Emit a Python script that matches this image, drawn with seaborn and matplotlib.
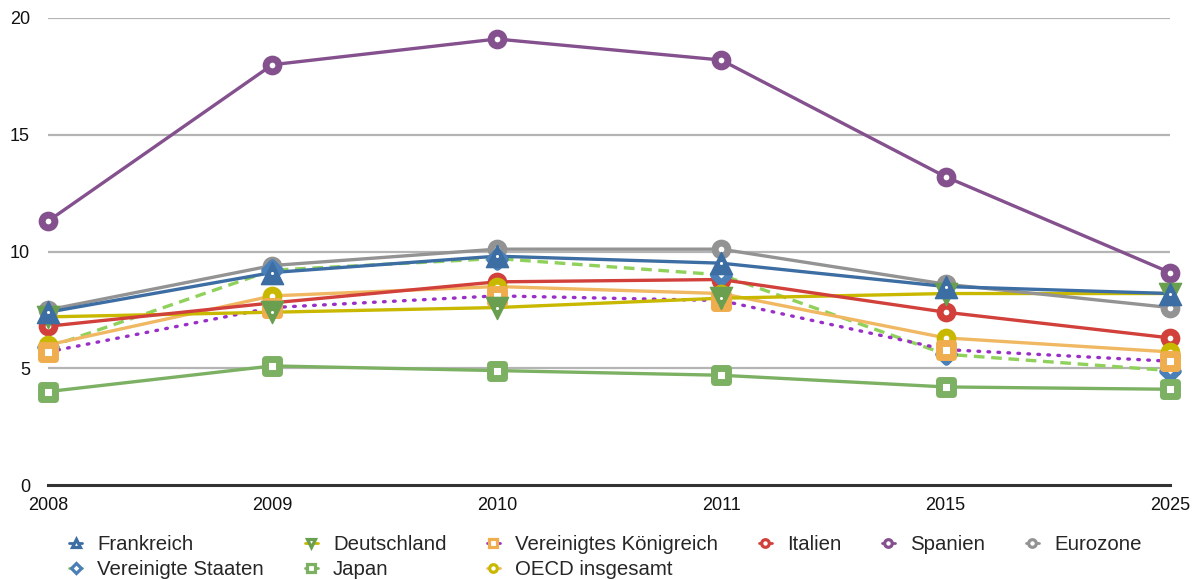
import matplotlib
matplotlib.use("Agg")
import matplotlib.pyplot as plt
from matplotlib.lines import Line2D
import pandas as pd
import seaborn as sns

# Jahre auf der x-Achse (gleichmäßig verteilt, kategorial)
years = ["2008", "2009", "2010", "2011", "2015", "2025"]

# Werte je Reihe
frankreich = [7.4, 9.1, 9.8, 9.5, 8.5, 8.2]
vereinigte_staaten = [5.9, 9.2, 9.7, 9.0, 5.6, 4.9]
deutschland = [7.2, 7.4, 7.6, 8.0, 8.2, 8.2]
japan = [4.0, 5.1, 4.9, 4.7, 4.2, 4.1]
vereinigtes_koenigreich = [5.7, 7.6, 8.1, 7.9, 5.8, 5.3]
oecd_insgesamt = [6.0, 8.1, 8.5, 8.2, 6.3, 5.7]
italien = [6.8, 7.8, 8.7, 8.8, 7.4, 6.3]
spanien = [11.3, 18.0, 19.1, 18.2, 13.2, 9.1]
eurozone = [7.5, 9.4, 10.1, 10.1, 8.6, 7.6]

y_ticks = [0, 5, 10, 15, 20]

# name, values, line colour, line style, marker, marker colour, marker kind
series = [
    ("Frankreich", frankreich, "#3c6da3", "-", "^", "#3c6da3", "solid"),
    ("Vereinigte Staaten", vereinigte_staaten, "#8fd15a", (0, (3.2, 2.0)), "D", "#4a7fb8", "ring"),
    ("Deutschland", deutschland, "#c9b800", "-", "v", "#6a9f4f", "solid"),
    ("Japan", japan, "#7cb063", "-", "s", "#7cb063", "ring"),
    ("Vereinigtes Königreich", vereinigtes_koenigreich, "#9a2fc8", (0, (0.5, 2.5)), "s", "#f0ad4e", "ring"),
    ("OECD insgesamt", oecd_insgesamt, "#f0b862", "-", "o", "#c8b800", "ring"),
    ("Italien", italien, "#d1403a", "-", "o", "#d1403a", "ring"),
    ("Spanien", spanien, "#84508e", "-", "o", "#84508e", "ring"),
    ("Eurozone", eurozone, "#939393", "-", "o", "#939393", "ring"),
]

# stacking order of the markers (bottom to top)
marker_order = ["Eurozone", "Spanien", "Italien", "Vereinigte Staaten", "OECD insgesamt",
                "Vereinigtes Königreich", "Japan", "Deutschland", "Frankreich"]
line_order = ["Vereinigte Staaten", "Vereinigtes Königreich", "OECD insgesamt", "Deutschland",
              "Japan", "Italien", "Eurozone", "Frankreich", "Spanien"]

sns.set_theme(style="white")
plt.rcParams["font.family"] = ["Liberation Sans", "DejaVu Sans"]

W, H = 1194, 580
fig = plt.figure(figsize=(W / 100, H / 100), dpi=100)
x0, x1, y0, y1 = 48, 1170, 485, 18
ax = fig.add_axes([x0 / W, 1 - y0 / H, (x1 - x0) / W, (y0 - y1) / H])

pos = list(range(len(years)))
lookup = {s[0]: s for s in series}

# lines
for k, name in enumerate(line_order):
    _, vals, lc, ls, m, mc, kind = lookup[name]
    df = pd.DataFrame({"pos": pos, "wert": vals})
    sns.lineplot(data=df, x="pos", y="wert", ax=ax, color=lc, linestyle=ls,
                 linewidth=2.4, zorder=3 + k * 0.01, clip_on=False,
                 solid_capstyle="round",
                 dash_capstyle="round" if name == "Vereinigtes Königreich" else "butt")

# markers
for k, name in enumerate(marker_order):
    _, vals, lc, ls, m, mc, kind = lookup[name]
    df = pd.DataFrame({"pos": pos, "wert": vals})
    z = 4 + k * 0.1
    if kind == "solid":
        sns.scatterplot(data=df, x="pos", y="wert", ax=ax, marker=m, s=16 ** 2,
                        color=mc, edgecolor=mc, linewidth=1.0, zorder=z, clip_on=False)
        sns.scatterplot(data=df, x="pos", y="wert", ax=ax, marker="o", s=2.2 ** 2,
                        color="white", edgecolor="white", linewidth=0, zorder=z + 0.05,
                        clip_on=False)
    else:
        size = 9.2 if m == "o" else (9.5 if m == "s" else 8.0)
        sns.scatterplot(data=df, x="pos", y="wert", ax=ax, marker=m, s=size ** 2,
                        color=mc, facecolor="white", edgecolor=mc, linewidth=5.0,
                        zorder=z, clip_on=False)

ax.set_xlim(0, len(years) - 1)
ax.set_ylim(0, 20)
ax.set_xticks(pos)
ax.set_xticklabels(years)
ax.set_yticks(y_ticks)
ax.set_yticklabels([str(t) for t in y_ticks])
ax.set_xlabel("")
ax.set_ylabel("")

for yv in y_ticks[1:]:
    ax.axhline(yv, color="#b4b4b4", linewidth=1.6, zorder=1)

for side in ["top", "right", "left"]:
    ax.spines[side].set_visible(False)
ax.spines["bottom"].set_color("#333333")
ax.spines["bottom"].set_linewidth(2.2)
ax.spines["bottom"].set_zorder(2)

ax.tick_params(axis="x", direction="inout", length=9, width=1.2, color="#333333",
               labelsize=13, labelcolor="#111111", pad=4)
ax.tick_params(axis="y", length=0, labelsize=13, labelcolor="#111111", pad=13)
ax.grid(False)

# legend entries: line colour behind a small marker
handles = []
for name, vals, lc, ls, m, mc, kind in series:
    h = Line2D([], [], color=lc, linestyle="-", linewidth=2.0, marker=m,
               markersize=5.5 if m != "D" else 4.8,
               markerfacecolor="white", markeredgecolor=mc, markeredgewidth=2.3)
    handles.append(h)

fig.legend(handles=handles, labels=[s[0] for s in series], ncol=6,
           loc="upper left", bbox_to_anchor=(69 / W, 1 - 535 / H),
           frameon=False, fontsize=14.7, handlelength=0.65, handletextpad=0.74,
           columnspacing=1.98, labelspacing=0.28, borderpad=0, borderaxespad=0)

fig.savefig("out.png", dpi=100)
